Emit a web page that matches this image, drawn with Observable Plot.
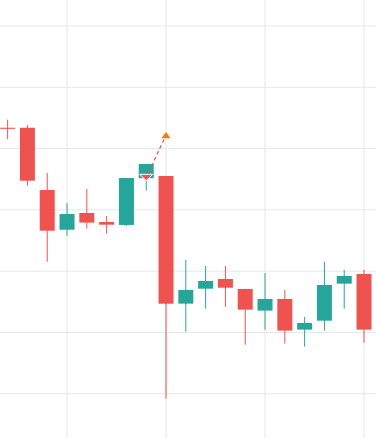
<!DOCTYPE html>
<html>
<head>
<meta charset="utf-8">
<script src="https://cdn.jsdelivr.net/npm/d3@7"></script>
<script src="https://cdn.jsdelivr.net/npm/@observablehq/plot@0.6"></script>
<style>
  html, body { margin: 0; padding: 0; background: #ffffff; overflow: hidden; }
  #chart svg { display: block; }
</style>
</head>
<body>
<div id="chart"></div>
<script>
// Candle index (time), OHLC prices
const idx   = [0, 1, 2, 3, 4, 5, 6, 7, 8, 9, 10, 11, 12, 13, 14, 15, 16, 17, 18, 19];
const open  = [111.66, 111.66, 106.58, 103.34, 104.71, 103.97, 103.73, 107.54, 107.72, 97.31, 98.53, 99.32, 98.51, 96.74, 97.69, 95.19, 95.92, 98.94, 99.73, 95.19];
const high  = [112.32, 111.88, 107.97, 105.52, 106.66, 104.46, 107.56, 108.70, 107.72, 100.87, 100.38, 100.38, 98.51, 99.81, 98.43, 96.22, 100.71, 100.06, 100.06, 96.79];
const low   = [110.72, 106.93, 100.73, 102.85, 103.43, 103.02, 103.65, 106.53, 89.56, 95.02, 96.90, 97.06, 93.96, 95.19, 94.05, 93.80, 95.11, 96.90, 94.13, 94.75];
const close = [111.57, 107.34, 103.26, 104.62, 103.92, 103.75, 107.56, 108.70, 97.31, 98.43, 99.16, 98.61, 96.82, 97.69, 95.11, 95.73, 98.83, 99.57, 95.19, 96.12];

// Signal markers
const sellIdx = [7];
const sellPrice = [107.64];
const targetIdx = [8];
const targetPrice = [111.10];

// Grid ticks
const xGridTicks = [3, 8, 13, 18];
const yGridTicks = [90, 95, 100, 105, 110, 115, 120];

const UP = "#26a69a", DOWN = "#ef5350", ORANGE = "#f57c00", GRID = "#e6e6e6";

const candles = idx.map((d, i) => ({
  i: d, open: open[i], high: high[i], low: low[i], close: close[i],
  up: close[i] >= open[i]
}));
const sells = sellIdx.map((d, i) => ({i: d, p: sellPrice[i]}));
const targets = targetIdx.map((d, i) => ({i: d, p: targetPrice[i]}));
const link = [sells[0], targets[0]];

const downTri = {
  draw(context) {
    const w = 6.5, h = 3.2;
    context.moveTo(-w, -h);
    context.lineTo(w, -h);
    context.lineTo(0, h);
    context.closePath();
  }
};
const upTri = {
  draw(context) {
    const w = 4.6, h = 3.2;
    context.moveTo(0, -h);
    context.lineTo(w, h);
    context.lineTo(-w, h);
    context.closePath();
  }
};

const chart = Plot.plot({
  width: 376,
  height: 438,
  marginTop: 0, marginRight: 0, marginBottom: 0, marginLeft: 0,
  x: {type: "linear", domain: [-0.36, 18.63], axis: null},
  y: {domain: [86.35, 122.08], axis: null},
  style: {background: "#ffffff"},
  marks: [
    Plot.gridX(xGridTicks, {stroke: GRID, strokeOpacity: 1, strokeWidth: 1}),
    Plot.gridY(yGridTicks, {stroke: GRID, strokeOpacity: 1, strokeWidth: 1}),
    Plot.ruleX(candles, {x: "i", y1: "low", y2: "high", stroke: d => d.up ? UP : DOWN, strokeWidth: 1}),
    Plot.ruleX(candles, {x: "i", y1: "open", y2: "close", stroke: d => d.up ? UP : DOWN, strokeWidth: 15, strokeLinecap: "butt"}),
    Plot.line(link, {x: "i", y: "p", stroke: DOWN, strokeWidth: 1.3, strokeDasharray: "2.5,4"}),
    Plot.dot(sells, {x: "i", y: "p", symbol: downTri, fill: DOWN, stroke: "#ffffff", strokeWidth: 1}),
    Plot.dot(targets, {x: "i", y: "p", symbol: upTri, fill: ORANGE, stroke: "none"})
  ]
});
document.getElementById("chart").append(chart);
</script>
</body>
</html>
